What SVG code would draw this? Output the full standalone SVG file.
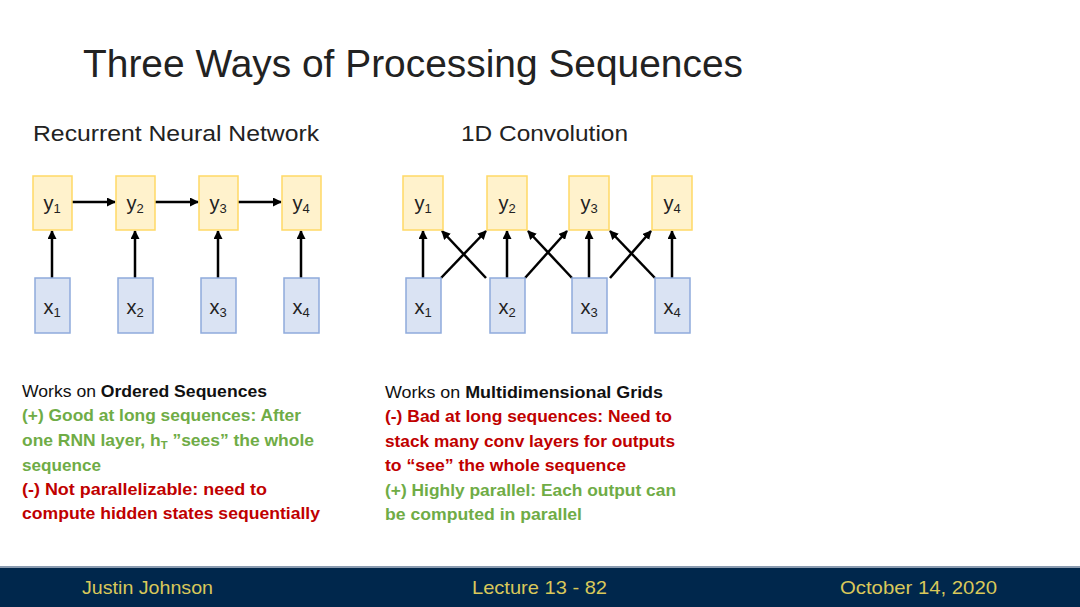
<svg xmlns="http://www.w3.org/2000/svg" width="1080" height="607" viewBox="0 0 1080 607">
<style>
.yb{fill:#fff2cc;stroke:#ffd966;stroke-width:1.5}
.xb{fill:#dae3f3;stroke:#8faadc;stroke-width:1.5}
.lbl{font-family:"Liberation Sans",Arial,sans-serif;font-size:20px;fill:#222;text-anchor:middle}
.sub{font-size:13px}
.ttl{font-family:"Liberation Sans",Arial,sans-serif;fill:#222}
.body{font-family:"Liberation Sans",Arial,sans-serif;font-size:17px}
.g{fill:#6fac46;font-weight:bold}
.r{fill:#c00000;font-weight:bold}
.k{fill:#111}
.ft{font-family:"Liberation Sans",Arial,sans-serif;font-size:19px;fill:#d9c85a}
.c line{stroke:#000;stroke-width:2.5;marker-end:url(#ah)}
</style>
<defs>
<marker id="ah" markerUnits="userSpaceOnUse" markerWidth="9" markerHeight="9" refX="8" refY="4.5" orient="auto">
<path d="M0,0 L9,4.5 L0,9 Z" fill="#000"/>
</marker>
</defs>
<rect width="1080" height="607" fill="#fff"/>
<text class="ttl" x="83" y="77" font-size="38" textLength="660" lengthAdjust="spacingAndGlyphs">Three Ways of Processing Sequences</text>
<text class="ttl" x="33" y="141" font-size="22" textLength="286" lengthAdjust="spacingAndGlyphs">Recurrent Neural Network</text>
<text class="ttl" x="461" y="141" font-size="22" textLength="167" lengthAdjust="spacingAndGlyphs">1D Convolution</text>

<g id="connectors" class="c">
<line x1="72" y1="202" x2="115" y2="202"/>
<line x1="155" y1="202" x2="198" y2="202"/>
<line x1="238" y1="202" x2="281" y2="202"/>
<line x1="52" y1="278" x2="52" y2="231"/>
<line x1="135" y1="278" x2="135" y2="231"/>
<line x1="218" y1="278" x2="218" y2="231"/>
<line x1="301" y1="278" x2="301" y2="231"/>
<line x1="423" y1="278" x2="423" y2="231"/>
<line x1="507" y1="278" x2="507" y2="231"/>
<line x1="589" y1="278" x2="589" y2="231"/>
<line x1="672" y1="278" x2="672" y2="231"/>
<line x1="441" y1="278" x2="486" y2="231"/>
<line x1="486" y1="278" x2="442" y2="231"/>
<line x1="525" y1="278" x2="567" y2="231"/>
<line x1="572" y1="278" x2="528" y2="231"/>
<line x1="610" y1="278" x2="651" y2="231"/>
<line x1="655" y1="278" x2="610" y2="231"/>
</g>

<g id="rnn_y1"><rect class="yb" x="33" y="176" width="39" height="54"/><text class="lbl" x="52" y="210">y<tspan class="sub" dy="3">1</tspan></text></g>
<g id="rnn_y2"><rect class="yb" x="116" y="176" width="39" height="54"/><text class="lbl" x="135" y="210">y<tspan class="sub" dy="3">2</tspan></text></g>
<g id="rnn_y3"><rect class="yb" x="199" y="176" width="39" height="54"/><text class="lbl" x="218" y="210">y<tspan class="sub" dy="3">3</tspan></text></g>
<g id="rnn_y4"><rect class="yb" x="282" y="176" width="39" height="54"/><text class="lbl" x="301" y="210">y<tspan class="sub" dy="3">4</tspan></text></g>
<g id="rnn_x1"><rect class="xb" x="35" y="278" width="35" height="55"/><text class="lbl" x="52" y="314">x<tspan class="sub" dy="3">1</tspan></text></g>
<g id="rnn_x2"><rect class="xb" x="118" y="278" width="35" height="55"/><text class="lbl" x="135" y="314">x<tspan class="sub" dy="3">2</tspan></text></g>
<g id="rnn_x3"><rect class="xb" x="201" y="278" width="35" height="55"/><text class="lbl" x="218" y="314">x<tspan class="sub" dy="3">3</tspan></text></g>
<g id="rnn_x4"><rect class="xb" x="284" y="278" width="35" height="55"/><text class="lbl" x="301" y="314">x<tspan class="sub" dy="3">4</tspan></text></g>

<g id="conv_y1"><rect class="yb" x="403" y="176" width="40" height="54"/><text class="lbl" x="423" y="210">y<tspan class="sub" dy="3">1</tspan></text></g>
<g id="conv_y2"><rect class="yb" x="487" y="176" width="40" height="54"/><text class="lbl" x="507" y="210">y<tspan class="sub" dy="3">2</tspan></text></g>
<g id="conv_y3"><rect class="yb" x="569" y="176" width="40" height="54"/><text class="lbl" x="589" y="210">y<tspan class="sub" dy="3">3</tspan></text></g>
<g id="conv_y4"><rect class="yb" x="652" y="176" width="40" height="54"/><text class="lbl" x="672" y="210">y<tspan class="sub" dy="3">4</tspan></text></g>
<g id="conv_x1"><rect class="xb" x="406" y="278" width="35" height="55"/><text class="lbl" x="423" y="314">x<tspan class="sub" dy="3">1</tspan></text></g>
<g id="conv_x2"><rect class="xb" x="490" y="278" width="35" height="55"/><text class="lbl" x="507" y="314">x<tspan class="sub" dy="3">2</tspan></text></g>
<g id="conv_x3"><rect class="xb" x="572" y="278" width="35" height="55"/><text class="lbl" x="589" y="314">x<tspan class="sub" dy="3">3</tspan></text></g>
<g id="conv_x4"><rect class="xb" x="655" y="278" width="35" height="55"/><text class="lbl" x="672" y="314">x<tspan class="sub" dy="3">4</tspan></text></g>

<g id="rnn_text" class="body">
<text x="22" y="397" class="k" textLength="245" lengthAdjust="spacingAndGlyphs">Works on <tspan font-weight="bold">Ordered Sequences</tspan></text>
<text x="22" y="421" class="g" textLength="279" lengthAdjust="spacingAndGlyphs">(+) Good at long sequences: After</text>
<text x="22" y="446" class="g" textLength="292" lengthAdjust="spacingAndGlyphs">one RNN layer, h<tspan font-size="11" dy="3">T</tspan><tspan dy="-3"> ”sees” the whole</tspan></text>
<text x="22" y="471" class="g" textLength="79" lengthAdjust="spacingAndGlyphs">sequence</text>
<text x="22" y="495" class="r" textLength="245" lengthAdjust="spacingAndGlyphs">(-) Not parallelizable: need to</text>
<text x="22" y="519" class="r" textLength="298" lengthAdjust="spacingAndGlyphs">compute hidden states sequentially</text>
</g>

<g id="conv_text" class="body">
<text x="385" y="398" class="k" textLength="278" lengthAdjust="spacingAndGlyphs">Works on <tspan font-weight="bold">Multidimensional Grids</tspan></text>
<text x="385" y="422" class="r" textLength="287" lengthAdjust="spacingAndGlyphs">(-) Bad at long sequences: Need to</text>
<text x="385" y="447" class="r" textLength="290" lengthAdjust="spacingAndGlyphs">stack many conv layers for outputs</text>
<text x="385" y="471" class="r" textLength="241" lengthAdjust="spacingAndGlyphs">to “see” the whole sequence</text>
<text x="385" y="496" class="g" textLength="291" lengthAdjust="spacingAndGlyphs">(+) Highly parallel: Each output can</text>
<text x="385" y="520" class="g" textLength="197" lengthAdjust="spacingAndGlyphs">be computed in parallel</text>
</g>

<g id="footer">
<rect x="0" y="567" width="1080" height="40" fill="#00274c"/>
<rect x="0" y="566" width="1080" height="2" fill="#8a9bb0"/>
<text class="ft" x="82" y="594" textLength="131" lengthAdjust="spacingAndGlyphs">Justin Johnson</text>
<text class="ft" x="472" y="594" textLength="135" lengthAdjust="spacingAndGlyphs">Lecture 13 - 82</text>
<text class="ft" x="840" y="594" textLength="157" lengthAdjust="spacingAndGlyphs">October 14, 2020</text>
</g>
</svg>
